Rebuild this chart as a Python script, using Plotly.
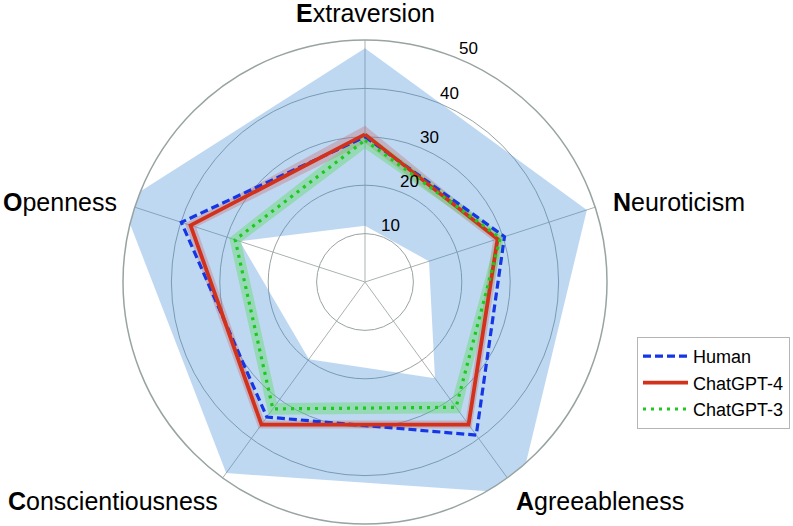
import math
import plotly.graph_objects as go

# ---- data ----
trait_labels = ["<b>E</b>xtraversion", "<b>N</b>euroticism", "<b>A</b>greeableness",
                "<b>C</b>onscientiousness", "<b>O</b>penness"]
trait_angles = [0, 72, 144, 216, 288]  # degrees, clockwise from top

human_mean = [30.0, 30.3, 39.1, 34.5, 39.9]
human_min = [11.6, 13.9, 24.6, 19.7, 27.2]
human_max = [48.3, 48.2, 54.0, 48.8, 52.8]

gpt4_mean = [30.5, 28.8, 36.4, 36.4, 37.9]
gpt4_std = [1.8, 1.0, 1.0, 1.0, 1.2]

gpt3_mean = [29.3, 29.4, 32.0, 32.4, 28.2]
gpt3_std = [1.7, 1.0, 1.5, 1.5, 1.3]

radial_ticks = [10, 20, 30, 40, 50]
radial_tick_labels = ["10", "20", "30", "40", "50"]
r_max = 50

# ---- styling / layout constants ----
W, H = 793, 526
FONT = "Liberation Sans, Arial, Helvetica, sans-serif"
GRID = "#98a4a2"
CX, CY, RAD = 365, 282, 242          # polar circle centre / radius in px
radial_label_offset = 2.7            # data units outward
radial_label_angle = 24              # clockwise from top
# per label: (radius in data units, angle tweak deg, xanchor)
trait_label_pos = [(55.5, 0.0, "center"), (53.6, 0.0, "left"), (54.9, 1.6, "left"),
                   (54.4, -2.3, "right"), (53.6, 0.0, "right")]


def closed(v):
    return list(v) + [v[0]]


def band(lo, hi):
    th = closed(trait_angles)
    return closed(hi) + closed(lo)[::-1], th + th[::-1]


def to_paper(r, theta_cw):
    a = math.radians(90 - theta_cw)
    px = CX + r / r_max * RAD * math.cos(a)
    py = CY - r / r_max * RAD * math.sin(a)
    return px / W, 1 - py / H


fig = go.Figure()

r, t = band(human_min, human_max)
fig.add_trace(go.Scatterpolar(r=r, theta=t, mode="lines", line=dict(width=0),
                              fill="toself", fillcolor="rgba(55,135,215,0.32)",
                              showlegend=False, hoverinfo="skip"))
r, t = band([m - s for m, s in zip(gpt4_mean, gpt4_std)],
            [m + s for m, s in zip(gpt4_mean, gpt4_std)])
fig.add_trace(go.Scatterpolar(r=r, theta=t, mode="lines", line=dict(width=0),
                              fill="toself", fillcolor="rgba(200,95,100,0.32)",
                              showlegend=False, hoverinfo="skip"))
r, t = band([m - s for m, s in zip(gpt3_mean, gpt3_std)],
            [m + s for m, s in zip(gpt3_mean, gpt3_std)])
fig.add_trace(go.Scatterpolar(r=r, theta=t, mode="lines", line=dict(width=0),
                              fill="toself", fillcolor="rgba(90,220,100,0.42)",
                              showlegend=False, hoverinfo="skip"))

fig.add_trace(go.Scatterpolar(r=closed(human_mean), theta=closed(trait_angles), mode="lines",
                              name="Human", line=dict(color="#1436e6", width=3.2, dash="8px,4px")))
fig.add_trace(go.Scatterpolar(r=closed(gpt4_mean), theta=closed(trait_angles), mode="lines",
                              name="ChatGPT-4", line=dict(color="#d2321c", width=3.8)))
fig.add_trace(go.Scatterpolar(r=closed(gpt3_mean), theta=closed(trait_angles), mode="lines",
                              name="ChatGPT-3", line=dict(color="#1ec81e", width=3.2, dash="3px,5px")))

annotations = []
for v, txt in zip(radial_ticks, radial_tick_labels):
    x, y = to_paper(v + radial_label_offset, radial_label_angle)
    annotations.append(dict(x=x, y=y, xref="paper", yref="paper", text=txt, showarrow=False,
                            xanchor="center", yanchor="middle",
                            font=dict(family=FONT, size=17, color="black")))
for ang, lab, (rr, dt, xa) in zip(trait_angles, trait_labels, trait_label_pos):
    x, y = to_paper(rr, ang + dt)
    annotations.append(dict(x=x, y=y, xref="paper", yref="paper", text=lab, showarrow=False,
                            xanchor=xa, yanchor="middle", borderpad=0,
                            font=dict(family=FONT, size=25, color="black")))

fig.update_layout(
    width=W, height=H, autosize=False,
    margin=dict(l=0, r=0, t=0, b=0),
    paper_bgcolor="white",
    font=dict(family=FONT, color="black"),
    polar=dict(
        domain=dict(x=[(CX - RAD) / W, (CX + RAD) / W], y=[1 - (CY + RAD) / H, 1 - (CY - RAD) / H]),
        bgcolor="white",
        radialaxis=dict(range=[0, r_max], tickvals=radial_ticks, showticklabels=False,
                        ticks="", showline=False, gridcolor=GRID, gridwidth=1.2),
        angularaxis=dict(rotation=90, direction="clockwise", tickmode="array",
                         tickvals=trait_angles, showticklabels=False, ticks="",
                         showline=True, linecolor=GRID, linewidth=1.5,
                         gridcolor="#aab3b1", gridwidth=1),
    ),
    annotations=annotations,
    legend=dict(x=637 / W, y=1 - 337 / H, xanchor="left", yanchor="top",
                bordercolor="#b5b5b5", borderwidth=1, bgcolor="white",
                font=dict(family=FONT, size=18, color="black"),
                itemwidth=45, tracegroupgap=0),
)

fig.write_html("out.html", config={"displayModeBar": False},
               post_script="document.body.style.margin='0';document.body.style.overflow='hidden';")
